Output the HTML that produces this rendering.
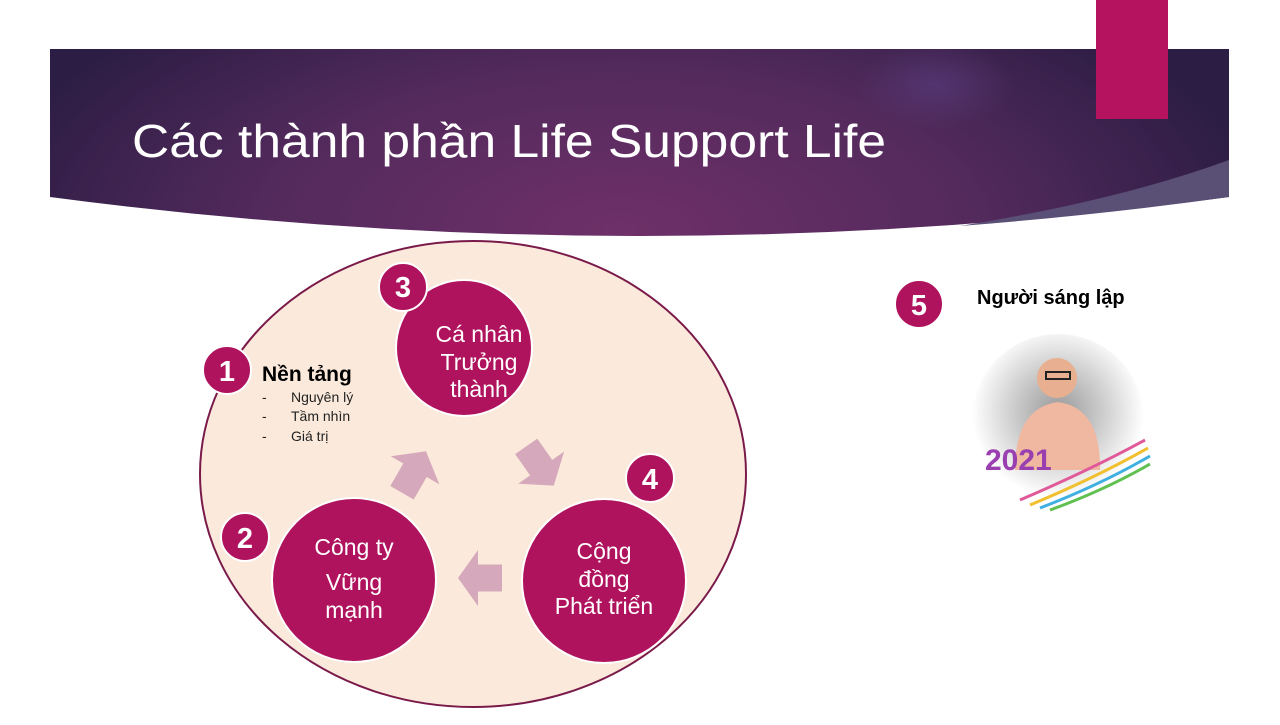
<!DOCTYPE html>
<html><head><meta charset="utf-8"><style>
body{margin:0;width:1280px;height:720px;overflow:hidden;background:#fff;font-family:"Liberation Sans","DejaVu Sans",sans-serif}
</style></head><body>
<svg width="1280" height="720" viewBox="0 0 1280 720" xmlns="http://www.w3.org/2000/svg">
<defs>
<radialGradient id="bg" gradientUnits="userSpaceOnUse" cx="620" cy="230" r="650" gradientTransform="translate(620,230) scale(1,0.45) translate(-620,-230)">
<stop offset="0" stop-color="#6e3068"/><stop offset="0.55" stop-color="#532a5c"/><stop offset="1" stop-color="#2c1d44"/>
</radialGradient>
<radialGradient id="glow" cx="0.5" cy="0.5" r="0.5">
<stop offset="0" stop-color="#5a3a7a" stop-opacity="0.7"/><stop offset="1" stop-color="#5a3a7a" stop-opacity="0"/>
</radialGradient>
<radialGradient id="ph" cx="0.5" cy="0.45" r="0.5">
<stop offset="0" stop-color="#999"/><stop offset="0.55" stop-color="#d0d0d0"/><stop offset="1" stop-color="#fff"/>
</radialGradient>
<clipPath id="bc"><path d="M50,49 L1229,49 L1229,197 Q640,275 50,197 Z"/></clipPath>
</defs>
<path d="M50,49 L1229,49 L1229,197 Q640,275 50,197 Z" fill="url(#bg)"/>
<ellipse cx="935" cy="85" rx="80" ry="45" fill="url(#glow)" clip-path="url(#bc)"/>
<path d="M1229,160 L1229,197 Q1100,215 960,226 Q1120,200 1229,160 Z" fill="#5a4f75"/>
<rect x="1096" y="0" width="72" height="119" fill="#b5135f"/>
<text x="132" y="157" font-size="46" fill="#fff" textLength="754" lengthAdjust="spacingAndGlyphs">Các thành phần Life Support Life</text>
<ellipse cx="473" cy="474" rx="273" ry="233" fill="#fbeadb" stroke="#7a1a4a" stroke-width="2"/>
<g fill="#d5a9bb">
<polygon transform="translate(414,472) rotate(-60)" points="-24,-13.5 2,-13.5 2,-28 24,0 2,28 2,13.5 -24,13.5"/>
<polygon transform="translate(540,466) rotate(55)" points="-24,-13.5 2,-13.5 2,-28 24,0 2,28 2,13.5 -24,13.5"/>
<polygon transform="translate(480,578) rotate(180)" points="-22,-13.5 2,-13.5 2,-28 22,0 2,28 2,13.5 -22,13.5"/>
</g>
<g fill="#b0135d" stroke="#fff" stroke-width="2">
<circle cx="464" cy="348" r="68"/>
<circle cx="354" cy="580" r="82"/>
<circle cx="604" cy="581" r="82"/>
<circle cx="403" cy="287" r="24"/>
<circle cx="227" cy="370" r="24"/>
<circle cx="245" cy="537" r="24"/>
<circle cx="650" cy="478" r="24"/>
<circle cx="919" cy="304" r="24"/>
</g>
<g fill="#fff" font-size="29" font-weight="bold" text-anchor="middle">
<text x="403" y="297">3</text><text x="227" y="381">1</text><text x="245" y="548">2</text><text x="650" y="489">4</text><text x="919" y="315">5</text>
</g>
<g fill="#fff" font-size="23" text-anchor="middle">
<text x="479" y="342">Cá nhân</text><text x="479" y="370">Trưởng</text><text x="479" y="397">thành</text>
<text x="354" y="555">Công ty</text><text x="354" y="590">Vững</text><text x="354" y="618">mạnh</text>
<text x="604" y="559">Cộng</text><text x="604" y="587">đồng</text><text x="604" y="614">Phát triển</text>
</g>
<text x="262" y="381" font-size="21" font-weight="bold" fill="#000">Nền tảng</text>
<g font-size="14" fill="#222">
<text x="262" y="402">-</text><text x="291" y="402">Nguyên lý</text>
<text x="262" y="421">-</text><text x="291" y="421">Tầm nhìn</text>
<text x="262" y="441">-</text><text x="291" y="441">Giá trị</text>
</g>
<text x="977" y="304" font-size="20" font-weight="bold" fill="#000">Người sáng lập</text>
<circle cx="1058" cy="420" r="86" fill="url(#ph)"/>
<path d="M1015,470 Q1015,408 1058,402 Q1101,408 1100,470 Z" fill="#f0b8a0"/>
<circle cx="1057" cy="378" r="20" fill="#e8b090"/>
<rect x="1046" y="372" width="24" height="7" fill="none" stroke="#222" stroke-width="2"/>
<text x="985" y="470" font-size="30" font-weight="bold" fill="#9a3fb0">2021</text>
<path d="M1020,500 Q1090,470 1145,440" stroke="#e05a9a" stroke-width="3" fill="none"/>
<path d="M1030,505 Q1095,478 1148,448" stroke="#f0c030" stroke-width="3" fill="none"/>
<path d="M1040,508 Q1100,485 1150,456" stroke="#40b0e0" stroke-width="3" fill="none"/>
<path d="M1050,510 Q1105,490 1150,464" stroke="#60c050" stroke-width="3" fill="none"/>
</svg>
</body></html>
